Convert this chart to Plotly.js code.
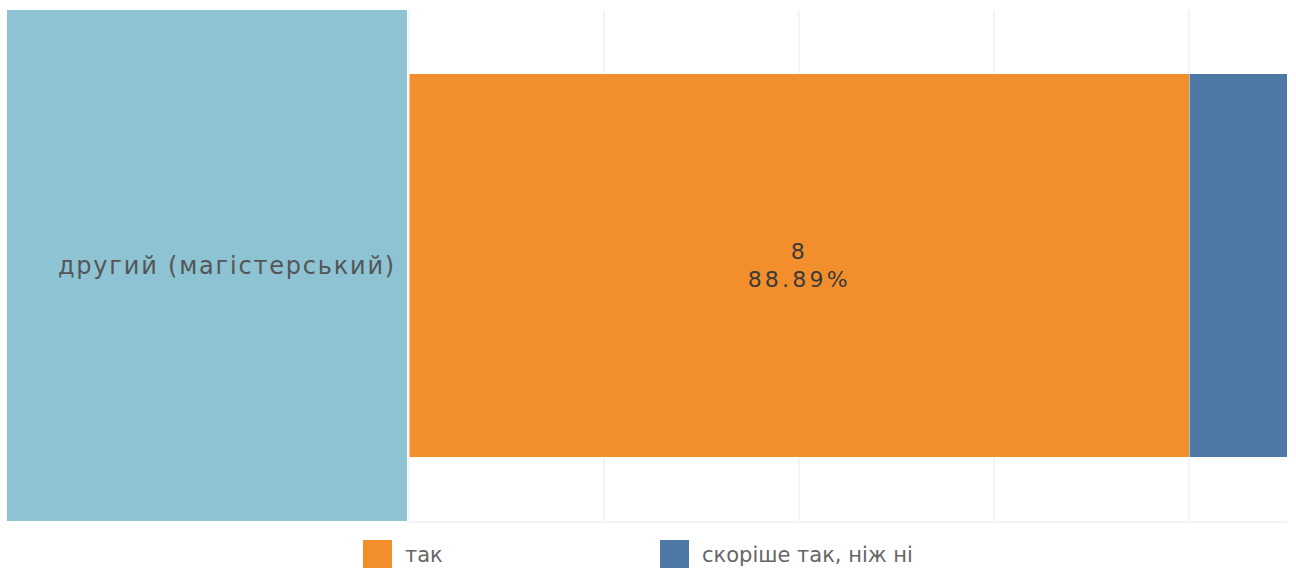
<!DOCTYPE html>
<html>
<head>
<meta charset="utf-8">
<script src="https://cdn.plot.ly/plotly-3.0.1.min.js"></script>
<style>
  html, body { margin: 0; padding: 0; background: #fff; }
  #chart { width: 1296px; height: 568px; }
  #chart .ytick text { letter-spacing: 1.8px; }
  text.bartext { letter-spacing: 3.2px; }
</style>
</head>
<body>
<div id="chart"></div>
<script>
// ---- data ----
const categories = ['другий (магістерський)'];
const seriesNames = ['так', 'скоріше так, ніж ні'];
const valuesTak = [8];
const valuesRather = [1];
const showLabelTak = [true];
const showLabelRather = [false];

const colorTak = '#F28E2B';
const colorRather = '#4E79A7';
const labelBg = '#8DC3D3';

const totals = categories.map((c, i) => valuesTak[i] + valuesRather[i]);
function labels(vals, show) {
  return vals.map((v, i) => show[i] ? (v + '<br>' + (100 * v / totals[i]).toFixed(2) + '%') : '');
}

const fontFam = 'DejaVu Sans, Open Sans, sans-serif';

const traces = [
  {
    type: 'bar', orientation: 'h', name: seriesNames[0],
    y: categories, x: valuesTak,
    marker: { color: colorTak, line: { color: 'rgba(255,255,255,0.5)', width: 1 } },
    text: labels(valuesTak, showLabelTak), textposition: 'inside', insidetextanchor: 'middle',
    textfont: { family: fontFam, size: 22, color: '#3a3a3a' },
    hoverinfo: 'none', showlegend: false
  },
  {
    type: 'bar', orientation: 'h', name: seriesNames[1],
    y: categories, x: valuesRather,
    marker: { color: colorRather, line: { color: 'rgba(255,255,255,0.5)', width: 1 } },
    text: labels(valuesRather, showLabelRather), textposition: 'inside', insidetextanchor: 'middle',
    textfont: { family: fontFam, size: 22, color: '#3a3a3a' },
    hoverinfo: 'none', showlegend: false
  }
];

const legendColors = [colorTak, colorRather];
const legendX = [363, 660];   // pixel positions of legend swatches
const W = 1296, H = 568;
const M = { l: 409, r: 9, t: 10, b: 47 };
const pw = W - M.l - M.r, ph = H - M.t - M.b;
const px = x => (x - M.l) / pw;
const py = y => (H - M.b - y) / ph;

const shapes = [
  { type: 'rect', xref: 'paper', yref: 'paper', layer: 'below',
    x0: px(7), x1: px(407), y0: 0, y1: 1, fillcolor: labelBg, line: { width: 0 } }
];
const annotations = [];
seriesNames.forEach((n, i) => {
  shapes.push({ type: 'rect', xref: 'paper', yref: 'paper',
    x0: px(legendX[i]), x1: px(legendX[i] + 29), y0: py(569), y1: py(540),
    fillcolor: legendColors[i], line: { width: 0 } });
  annotations.push({ xref: 'paper', yref: 'paper', x: px(legendX[i] + 40), y: py(555),
    xanchor: 'left', yanchor: 'middle', showarrow: false, text: n,
    font: { family: fontFam, size: 21, color: '#666' } });
});

const layout = {
  width: W, height: H,
  margin: M,
  paper_bgcolor: '#fff', plot_bgcolor: '#fff',
  barmode: 'stack', bargap: 0.25,
  showlegend: false,
  xaxis: {
    range: [0, 9], dtick: 2, tick0: 0, showticklabels: false,
    showgrid: true, gridcolor: '#f4f4f4', gridwidth: 2,
    zeroline: true, zerolinecolor: '#f4f4f4', zerolinewidth: 2,
    showline: true, linecolor: '#f2f2f2', linewidth: 2, fixedrange: true
  },
  yaxis: {
    type: 'category', showgrid: false, zeroline: false, ticks: '',
    ticklabelstandoff: 12,
    tickfont: { family: fontFam, size: 24, color: '#555' }, fixedrange: true
  },
  shapes: shapes,
  annotations: annotations
};

Plotly.newPlot('chart', traces, layout, { displayModeBar: false, staticPlot: true });
</script>
</body>
</html>
